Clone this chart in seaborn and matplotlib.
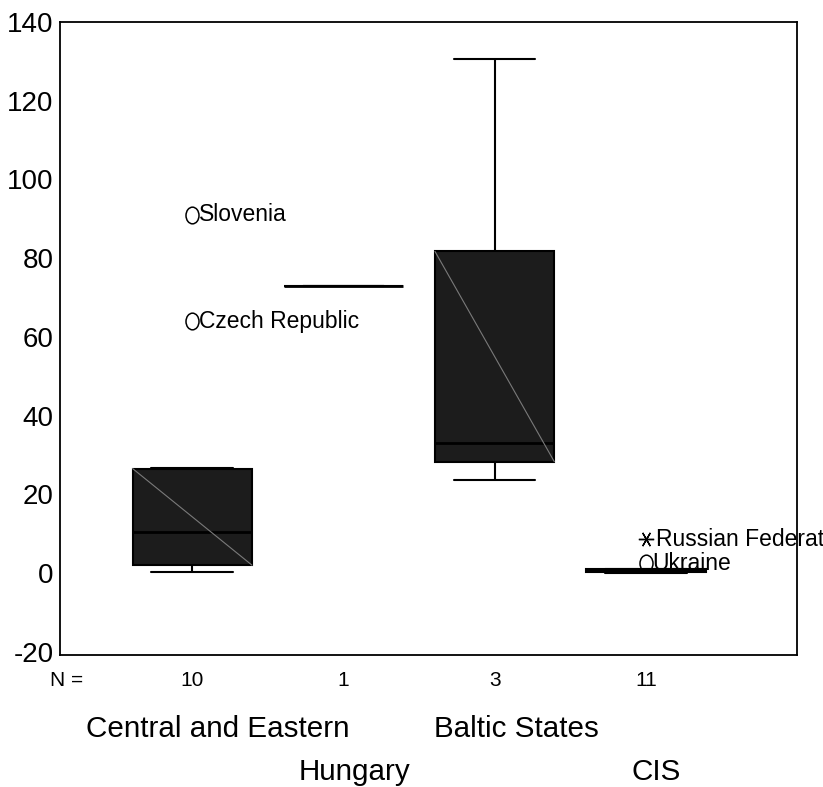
import numpy as np
import pandas as pd
import matplotlib
matplotlib.use("Agg")
import matplotlib.pyplot as plt
from matplotlib.path import Path
from matplotlib.transforms import Affine2D, blended_transform_factory
import seaborn as sns

# Region groups and their member values
regions = ["Central and Eastern", "Hungary", "Baltic States", "CIS"]

central_eastern = [0.3, 1.2, 2.0, 2.1, 8.0, 12.8, 26.5, 26.6, 64.0, 91.0]
central_eastern_names = ["", "", "", "", "", "", "", "", "Czech Republic", "Slovenia"]
hungary = [73.0]
hungary_names = [""]
baltic_states = [23.6, 33.0, 130.5]
baltic_names = ["", "", ""]
cis = [0.1, 0.2, 0.3, 0.4, 0.6, 0.7, 0.8, 1.0, 1.1, 2.5, 8.6]
cis_names = ["", "", "", "", "", "", "", "", "", "Ukraine", "Russian Federation"]

y_ticks = [-20, 0, 20, 40, 60, 80, 100, 120, 140]

groups = [central_eastern, hungary, baltic_states, cis]
group_names = [central_eastern_names, hungary_names, baltic_names, cis_names]

df = pd.DataFrame({
    "region": np.repeat(regions, [len(g) for g in groups]),
    "value": np.concatenate(groups),
    "country": sum(group_names, []),
})

sns.set_style("white")
plt.rcParams["font.family"] = ["Liberation Sans", "DejaVu Sans"]
plt.rcParams["axes.unicode_minus"] = False
for key in ["text.color", "axes.labelcolor", "xtick.color", "ytick.color",
            "axes.edgecolor"]:
    plt.rcParams[key] = "black"

fig = plt.figure(figsize=(8.23, 7.87), dpi=100)
ax = fig.add_axes([0.0729, 0.1677, 0.8955, 0.8043])

box_width = 0.79
sns.boxplot(
    data=df, x="region", y="value", order=regions,
    width=box_width, color="#1c1c1c", saturation=1, linecolor="black",
    linewidth=1.5, showfliers=False, whis=1.5, capwidths=0.54,
    medianprops={"color": "black", "linewidth": 2.0},
    ax=ax,
)

# SPSS-style marks: diagonal across the box, outliers and extremes with labels
ellipse = Path.unit_circle().transformed(Affine2D().scale(0.78, 1.0))
for i, (vals, names) in enumerate(zip(groups, group_names)):
    v = np.asarray(vals)
    q1, q3 = np.percentile(v, [25, 75])
    iqr = q3 - q1
    if q3 - q1 > 1.0:
        ax.plot([i - box_width / 2, i + box_width / 2], [q3, q1],
                color="#7a7a7a", lw=0.8, zorder=3)
    for val, name in zip(v, names):
        if iqr == 0:
            continue
        dist = max(val - q3, q1 - val) / iqr
        if dist > 3:
            ax.plot(i, val, marker=(6, 2, 90), ms=11, mec="black",
                    mew=1.0, ls="none", zorder=4)
            offset = 7
        elif dist > 1.5:
            ax.plot(i, val, marker=ellipse, ms=12, mfc="none", mec="black",
                    mew=1.1, ls="none", zorder=4)
            offset = 4.5
        else:
            continue
        ax.annotate(name, (i, val), xytext=(offset, 0), textcoords="offset points",
                    va="center", ha="left", fontsize=16.5, zorder=2,
                    annotation_clip=False)

ax.set_xlim(-0.875, 4.0)
ax.set_ylim(-20.8, 140)
ax.set_yticks(y_ticks)
ax.set_yticklabels([str(t) for t in y_ticks], fontsize=20)
ax.set_xticks(range(len(regions)))
ax.set_xticklabels([])
ax.set_xlabel("")
ax.set_ylabel("")
ax.tick_params(axis="both", direction="out", length=4, width=1.0,
               color="black", pad=0.5)
for sp in ax.spines.values():
    sp.set_visible(True)
    sp.set_color("black")
    sp.set_linewidth(1.3)
    sp.set_zorder(5)

# Case counts and staggered group labels below the axis
label_shift = [0.166, 0.073, 0.146, 0.066]
trans = blended_transform_factory(ax.transData, ax.transAxes)
ax.text(-0.83, -0.049, "N =", transform=trans, ha="center", va="baseline",
        fontsize=15)
for i, vals in enumerate(groups):
    ax.text(i, -0.049, str(len(vals)), transform=trans, ha="center",
            va="baseline", fontsize=15)
    row_y = -0.1295 if i % 2 == 0 else -0.1975
    ax.text(i + label_shift[i], row_y, regions[i], transform=trans,
            ha="center", va="baseline", fontsize=21.3)

fig.savefig("out.png", dpi=100)
